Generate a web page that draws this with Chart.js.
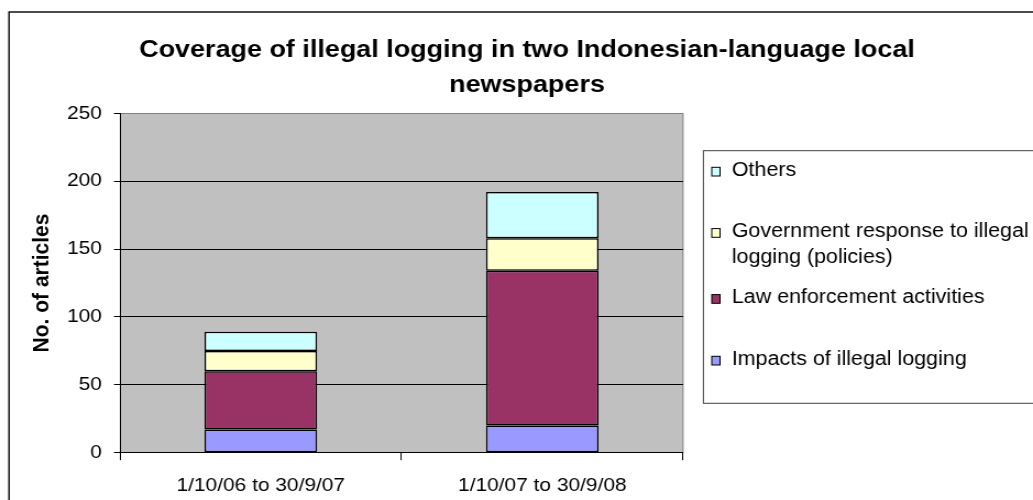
<!DOCTYPE html>
<html>
<head>
<meta charset="utf-8">
<script src="https://cdn.jsdelivr.net/npm/chart.js@4/dist/chart.umd.min.js"></script>
<style>
  html, body { margin: 0; padding: 0; background: #ffffff; }
  canvas { display: block; }
</style>
</head>
<body>
<canvas id="chart" width="939" height="500" style="width:1033px;height:500px"></canvas>
<script>
// Reporting periods (x categories)
const periods = ['1/10/06 to 30/9/07', '1/10/07 to 30/9/08'];

// Number of articles per topic, stacked bottom to top
const impacts = [17, 20];
const lawEnforcement = [43, 114];
const govResponse = [15, 24];
const others = [14, 34];

const seriesNames = [
  'Impacts of illegal logging',
  'Law enforcement activities',
  'Government response to illegal logging (policies)',
  'Others'
];
const seriesColors = ['#9999FF', '#993366', '#FFFFCC', '#CCFFFF'];

// Y axis range
const yMin = 0;
const yMax = 250;
const yStep = 50;

const titleLines = ['Coverage of illegal logging in two Indonesian-language local', 'newspapers'];
const yAxisTitle = 'No. of articles';

const FONT = '"Liberation Sans", Arial, sans-serif';

// Grey plot background, plot border and the outer chart frame
const frameAndBackground = {
  id: 'frameAndBackground',
  beforeDraw(chart) {
    const { ctx, chartArea: a } = chart;
    ctx.save();
    ctx.fillStyle = '#C0C0C0';
    ctx.fillRect(a.left, a.top, a.right - a.left, a.bottom - a.top);
    ctx.strokeStyle = '#808080';
    ctx.lineWidth = 1;
    ctx.beginPath();
    ctx.moveTo(a.right, a.top);
    ctx.lineTo(a.right, a.bottom);
    ctx.stroke();
    ctx.strokeStyle = '#000000';
    ctx.lineWidth = 1.4;
    ctx.strokeRect(8.2, 12, 2000, 2000);
    ctx.restore();
  }
};

// Two-line bold chart title
const chartTitle = {
  id: 'chartTitle',
  afterDraw(chart, args, opts) {
    const { ctx } = chart;
    ctx.save();
    ctx.fillStyle = '#000';
    ctx.font = 'bold ' + opts.size + 'px ' + FONT;
    ctx.textAlign = 'center';
    ctx.textBaseline = 'alphabetic';
    opts.lines.forEach((line, i) => {
      ctx.fillText(line, opts.centerX, opts.firstBaseline + i * opts.lineGap);
    });
    ctx.restore();
  }
};

// Boxed legend on the right, listed top-down in stack order
const boxedLegend = {
  id: 'boxedLegend',
  afterDraw(chart, args, o) {
    const { ctx } = chart;
    ctx.save();
    ctx.strokeStyle = '#404040';
    ctx.lineWidth = 1;
    ctx.strokeRect(o.left, o.top, chart.width - o.left + 10, o.bottom - o.top);
    ctx.font = o.size + 'px ' + FONT;
    ctx.textAlign = 'left';
    ctx.textBaseline = 'alphabetic';
    const maxW = chart.width - 1 - o.textX;
    const items = chart.data.datasets.slice().reverse();
    items.forEach((ds, i) => {
      const base = o.top + o.baselines[i];
      // wrap label to the available width
      const words = ds.label.split(' ');
      const lines = [];
      let cur = '';
      words.forEach(w => {
        const test = cur ? cur + ' ' + w : w;
        if (cur && ctx.measureText(test).width > maxW) { lines.push(cur); cur = w; }
        else cur = test;
      });
      if (cur) lines.push(cur);
      ctx.fillStyle = ds.backgroundColor;
      ctx.fillRect(o.swatchX, base - o.swatchH, o.swatchW, o.swatchH);
      ctx.strokeStyle = '#000';
      ctx.lineWidth = 1;
      ctx.strokeRect(o.swatchX, base - o.swatchH, o.swatchW, o.swatchH);
      ctx.fillStyle = '#000';
      lines.forEach((ln, k) => ctx.fillText(ln, o.textX, base + k * o.lineHeight));
    });
    ctx.restore();
  }
};

const seriesData = [impacts, lawEnforcement, govResponse, others];

new Chart(document.getElementById('chart'), {
  type: 'bar',
  data: {
    labels: periods,
    datasets: seriesData.map((d, i) => ({
      label: seriesNames[i],
      data: d,
      backgroundColor: seriesColors[i],
      borderColor: '#000000',
      borderWidth: 1.5,
      borderSkipped: false,
      barPercentage: 0.4,
      categoryPercentage: 1.0
    }))
  },
  options: {
    responsive: false,
    animation: false,
    devicePixelRatio: 1,
    layout: { padding: { left: 10, right: 318.1, top: 113.3, bottom: 0 } },
    plugins: {
      legend: { display: false },
      title: { display: false },
      tooltip: { enabled: false },
      chartTitle: { lines: titleLines, size: 24.5, centerX: 479, firstBaseline: 56.7, lineGap: 35 },
      boxedLegend: {
        left: 639.4, top: 150.7, bottom: 403.3,
        swatchX: 647, swatchW: 7.5, swatchH: 8.7,
        textX: 665.2, size: 19.5, lineHeight: 25.4,
        baselines: [25.3, 86.6, 152.6, 214.3]
      }
    },
    scales: {
      x: {
        stacked: true,
        offset: true,
        afterFit(scale) { scale.height = 47.3; },
        grid: { display: true, drawOnChartArea: false, drawTicks: true, tickLength: 7.5, tickColor: '#000', offset: true },
        border: { display: true, color: '#000', width: 1 },
        ticks: { color: '#000', font: { family: FONT, size: 19 }, padding: 14, maxRotation: 0, autoSkip: false }
      },
      y: {
        stacked: true,
        min: yMin,
        max: yMax,
        afterFit(scale) { scale.width = 99.1; },
        grid: {
          color: ctx => (ctx.tick && ctx.tick.value === yMax ? '#808080' : '#000000'),
          lineWidth: 1,
          tickLength: 5.5,
          tickColor: '#000'
        },
        border: { display: true, color: '#000', width: 1 },
        ticks: { stepSize: yStep, color: '#000', font: { family: FONT, size: 19 }, padding: 11 },
        title: {
          display: true,
          text: yAxisTitle,
          color: '#000',
          font: { family: FONT, size: 21, weight: 'bold' },
          padding: { top: 15.7, bottom: 0 }
        }
      }
    }
  },
  plugins: [frameAndBackground, chartTitle, boxedLegend]
});
</script>
</body>
</html>
